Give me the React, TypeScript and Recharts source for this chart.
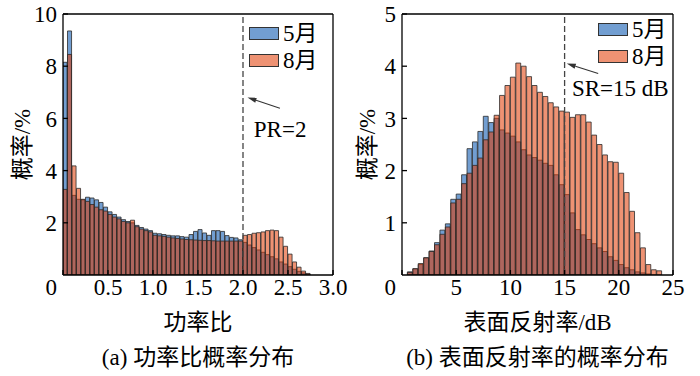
import { Bar, BarChart, ReferenceDot, ReferenceLine, XAxis, YAxis } from "recharts";

const FONT = "'Liberation Serif', 'Times New Roman', 'Noto Sans CJK SC', serif";
const SERIES = ["5月", "8月"];
const MAY_COLOR = "#4f86c6";
const AUG_COLOR = "#e03900";
const MAY_OPACITY = 0.8;
const AUG_OPACITY = 0.55;

// (a) power ratio histogram, bins of 0.05 starting at 0
const PR_BIN = 0.05;
const prMay = [
  8.15, 9.35, 3.05, 2.9, 2.88, 2.98, 2.95, 2.88, 2.78, 2.6, 2.42, 2.32, 2.22, 2.12, 2.05, 2.0, 1.9, 1.82, 1.76,
  1.7, 1.6, 1.58, 1.55, 1.52, 1.5, 1.5, 1.47, 1.45, 1.55, 1.67, 1.74, 1.61, 1.52, 1.7, 1.7, 1.67, 1.51, 1.44,
  1.42, 1.35, 1.25, 1.15, 1.05, 0.96, 0.87, 0.78, 0.7, 0.62, 0.5, 0.42, 0.32, 0.22, 0.14, 0.08, 0.03,
];
const prAug = [
  3.28, 8.45, 4.18, 3.32, 2.9, 2.82, 2.7, 2.6, 2.5, 2.45, 2.32, 2.22, 2.15, 2.05, 2.0, 2.1, 1.85, 1.76, 1.7,
  1.65, 1.52, 1.5, 1.48, 1.45, 1.42, 1.4, 1.38, 1.36, 1.35, 1.34, 1.33, 1.32, 1.32, 1.31, 1.3, 1.3, 1.3, 1.3,
  1.3, 1.3, 1.52, 1.55, 1.6, 1.62, 1.65, 1.7, 1.72, 1.7, 1.45, 1.1, 0.8, 0.5, 0.3, 0.15, 0.06,
];
const prXTicks = [0, 0.5, 1, 1.5, 2, 2.5, 3];
const prXLabels = ["0", "0.5", "1.0", "1.5", "2.0", "2.5", "3.0"];
const prYTicks = [2, 4, 6, 8, 10];

// (b) surface reflectivity histogram, bins of 0.5 dB starting at 0
const SR_BIN = 0.5;
const srMay = [
  0, 0.06, 0.12, 0.2, 0.33, 0.46, 0.62, 0.86, 0.98, 1.45, 1.55, 1.92, 2.42, 2.55, 2.75, 3.04, 2.92, 3.0, 2.78,
  2.72, 2.66, 2.55, 2.4, 2.3, 2.25, 2.2, 2.14, 2.1, 1.92, 1.73, 1.54, 1.19, 0.87, 0.77, 0.68, 0.6, 0.52, 0.45,
  0.35, 0.28, 0.2, 0.14, 0.1, 0.06, 0.04, 0.02, 0, 0,
];
const srAug = [
  0, 0.05, 0.12, 0.22, 0.33, 0.45, 0.58, 0.78, 0.92, 1.38, 1.45, 1.75, 1.95, 2.1, 2.24, 2.59, 2.74, 3.06, 3.44,
  3.63, 3.79, 4.06, 4.0, 3.8, 3.63, 3.5, 3.42, 3.3, 3.22, 3.14, 3.12, 3.02, 3.07, 3.07, 2.93, 2.68, 2.5, 2.3,
  2.17, 2.16, 1.95, 1.58, 1.22, 0.81, 0.52, 0.2, 0.1, 0.08,
];
const srXTicks = [0, 5, 10, 15, 20, 25];
const srYTicks = [1, 2, 3, 4, 5];

const CHART_W = 350;
const CHART_H = 376;

function Arrow(props: any) {
  const { x1, y1, x2, y2 } = props;
  const a = Math.atan2(y2 - y1, x2 - x1);
  const len = 9;
  const w = 2.6;
  const bx = x2 - len * Math.cos(a);
  const by = y2 - len * Math.sin(a);
  const pts = [
    `${x2},${y2}`,
    `${bx + w * Math.sin(a)},${by - w * Math.cos(a)}`,
    `${bx - w * Math.sin(a)},${by + w * Math.cos(a)}`,
  ].join(" ");
  return (
    <g>
      <line x1={x1} y1={y1} x2={bx} y2={by} stroke="#333" strokeWidth={1.1} />
      <polygon points={pts} fill="#333" />
    </g>
  );
}

function makeXTick(ticks: number[], labels: string[]) {
  return (props: any) => {
    const { x, y, payload } = props;
    const v = payload.value;
    const i = ticks.indexOf(v);
    const origin = v === 0;
    return (
      <text
        x={origin ? x - 6 : x}
        y={y}
        dy="0.71em"
        textAnchor={origin ? "end" : "middle"}
        fill="#000"
        fontSize={23}
        fontFamily={FONT}
      >
        {i >= 0 ? labels[i] : String(v)}
      </text>
    );
  };
}

type PanelProps = {
  may: number[];
  aug: number[];
  bin: number;
  xMax: number;
  xTicks: number[];
  xLabels: string[];
  yMax: number;
  yTicks: number[];
  yWidth: number;
  yLabelOffset: number;
  marginRight: number;
  xTitle: string;
  refX: number;
  note: string;
  noteAt: { x: number; y: number };
  arrowFrom: { x: number; y: number };
  arrowTo: { x: number; y: number };
};

function Panel(p: PanelProps) {
  const margin = { top: 14, right: p.marginRight, left: 8, bottom: 40 };
  const plotW = CHART_W - margin.left - p.yWidth - margin.right;
  const barSize = (plotW * p.bin) / p.xMax;
  const rows = p.may.map((m, i) => ({ x: +(p.bin * (i + 0.5)).toFixed(3), may: m, aug: p.aug[i] }));
  const axisStroke = { stroke: "#000", strokeWidth: 1.3 };
  return (
    <BarChart width={CHART_W} height={CHART_H} data={rows} margin={margin} barGap={0} barCategoryGap={0}>
      <XAxis
        xAxisId="main"
        dataKey="x"
        type="number"
        domain={[0, p.xMax]}
        ticks={p.xTicks}
        interval={0}
        allowDataOverflow
        height={61}
        tickSize={-5}
        tickMargin={9}
        tickLine={axisStroke}
        axisLine={axisStroke}
        tick={makeXTick(p.xTicks, p.xLabels)}
        label={{ value: p.xTitle, position: "insideBottom", offset: 6, fill: "#000", fontSize: 23, fontFamily: FONT }}
      />
      <XAxis xAxisId="over" dataKey="x" type="number" domain={[0, p.xMax]} allowDataOverflow hide />
      <YAxis
        domain={[0, p.yMax]}
        ticks={p.yTicks}
        interval={0}
        allowDataOverflow
        width={p.yWidth}
        tickSize={-5}
        tickMargin={11}
        tickLine={axisStroke}
        axisLine={axisStroke}
        tick={{ fill: "#000", fontSize: 23, fontFamily: FONT }}
        label={{
          value: "概率/%",
          angle: -90,
          position: "insideLeft",
          offset: p.yLabelOffset,
          fill: "#000",
          fontSize: 23,
          fontFamily: FONT,
          style: { textAnchor: "middle" },
        }}
      />
      <Bar
        xAxisId="main"
        dataKey="may"
        name={SERIES[0]}
        fill={MAY_COLOR}
        fillOpacity={MAY_OPACITY}
        stroke="#2b2b2b"
        strokeWidth={0.8}
        barSize={barSize}
        isAnimationActive={false}
      />
      <Bar
        xAxisId="over"
        dataKey="aug"
        name={SERIES[1]}
        fill={AUG_COLOR}
        fillOpacity={AUG_OPACITY}
        stroke="#2b2b2b"
        strokeWidth={0.8}
        barSize={barSize}
        isAnimationActive={false}
      />
      <ReferenceLine xAxisId="main" x={p.xMax} stroke="#000" strokeWidth={1.3} />
      <ReferenceLine xAxisId="main" y={p.yMax} stroke="#000" strokeWidth={1.3} />
      <ReferenceLine xAxisId="main" x={p.refX} stroke="#444" strokeWidth={1.3} strokeDasharray="6 3" />
      <ReferenceLine xAxisId="main" segment={[p.arrowFrom, p.arrowTo]} shape={Arrow} />
      <ReferenceDot
        xAxisId="main"
        x={p.noteAt.x}
        y={p.noteAt.y}
        r={0}
        stroke="none"
        fill="none"
        label={{ value: p.note, position: "right", offset: 0, fill: "#000", fontSize: 23, fontFamily: FONT }}
      />
    </BarChart>
  );
}

function LegendBox({ left, top }: { left: number; top: number }) {
  const fills = [
    { c: MAY_COLOR, o: MAY_OPACITY },
    { c: AUG_COLOR, o: AUG_OPACITY },
  ];
  return (
    <div style={{ position: "absolute", left, top }}>
      {SERIES.map((s, i) => (
        <div key={s} style={{ display: "flex", alignItems: "center", height: 27 }}>
          <div
            style={{
              width: 30,
              height: 13,
              boxSizing: "border-box",
              border: "1px solid #333",
              position: "relative",
              background: "#fff",
            }}
          >
            <div style={{ position: "absolute", inset: 0, background: fills[i].c, opacity: fills[i].o }} />
          </div>
          <span style={{ marginLeft: 4, fontSize: 23, lineHeight: "27px", fontFamily: FONT, color: "#000" }}>{s}</span>
        </div>
      ))}
    </div>
  );
}

const captionStyle = {
  position: "absolute" as const,
  top: 345,
  textAlign: "center" as const,
  fontSize: 23,
  lineHeight: "26px",
  fontFamily: FONT,
  color: "#000",
  whiteSpace: "nowrap" as const,
};

export default function App() {
  return (
    <div style={{ position: "relative", width: 700, height: 376, background: "#fff", overflow: "hidden" }}>
      <style>{`body{margin:0}`}</style>
      <div style={{ position: "absolute", left: 0, top: 0 }}>
        <Panel
          may={prMay}
          aug={prAug}
          bin={PR_BIN}
          xMax={3}
          xTicks={prXTicks}
          xLabels={prXLabels}
          yMax={10}
          yTicks={prYTicks}
          yWidth={55}
          yLabelOffset={14}
          marginRight={17}
          xTitle="功率比"
          refX={2}
          note="PR=2"
          noteAt={{ x: 2.12, y: 5.6 }}
          arrowFrom={{ x: 2.41, y: 6.39 }}
          arrowTo={{ x: 2.05, y: 6.8 }}
        />
        <LegendBox left={249} top={20} />
      </div>
      <div style={{ position: "absolute", left: 350, top: 0 }}>
        <Panel
          may={srMay}
          aug={srAug}
          bin={SR_BIN}
          xMax={25}
          xTicks={srXTicks}
          xLabels={srXTicks.map(String)}
          yMax={5}
          yTicks={srYTicks}
          yWidth={44}
          yLabelOffset={9}
          marginRight={27}
          xTitle="表面反射率/dB"
          refX={15}
          note="SR=15 dB"
          noteAt={{ x: 15.68, y: 3.58 }}
          arrowFrom={{ x: 18.1, y: 3.86 }}
          arrowTo={{ x: 15.2, y: 4.05 }}
        />
        <LegendBox left={248} top={16} />
      </div>
      <div style={{ ...captionStyle, left: 63, width: 270 }}>(a) 功率比概率分布</div>
      <div style={{ ...captionStyle, left: 402, width: 271 }}>(b) 表面反射率的概率分布</div>
    </div>
  );
}
